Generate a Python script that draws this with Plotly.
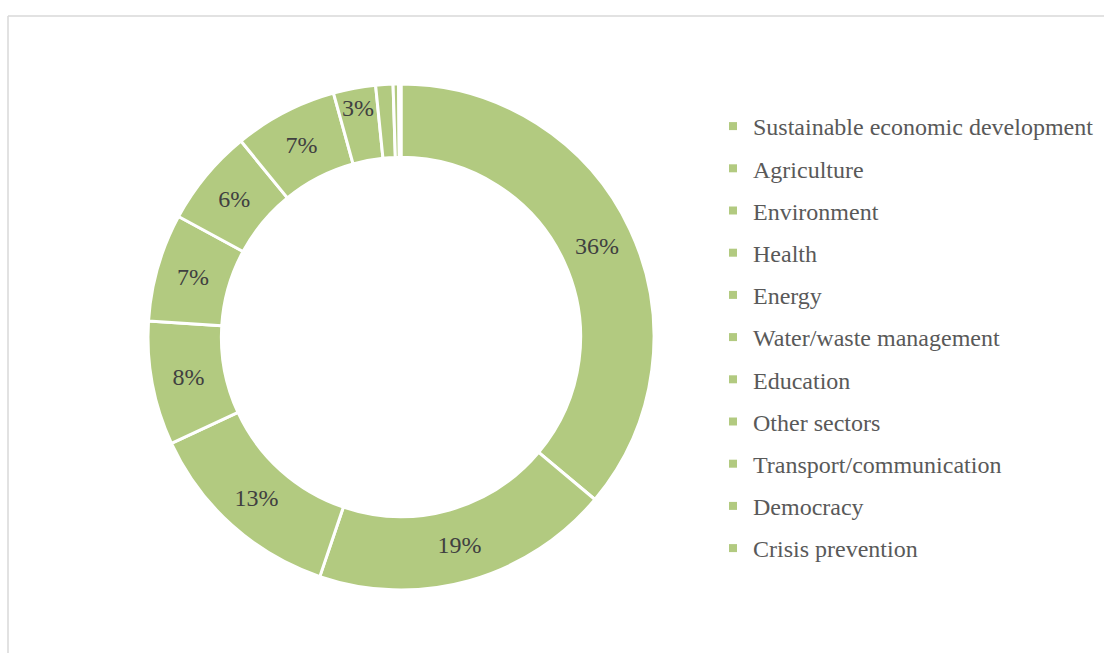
import plotly.graph_objects as go

sectors = ["Sustainable economic development", "Agriculture", "Environment", "Health",
           "Energy", "Water/waste management", "Education", "Other sectors",
           "Transport/communication", "Democracy", "Crisis prevention"]
shares = [36.1, 19.1, 12.9, 7.9, 6.9, 6.2, 6.6, 2.7, 1.1, 0.35, 0.15]
labels_text = [f"{round(v)}%" if v >= 2 else "" for v in shares]

W, H = 1104, 653
cx, cy, R = 401, 337, 253
slice_color = "#b2ca80"

fig = go.Figure()
fig.add_trace(go.Pie(
    labels=sectors, values=shares, text=labels_text, textinfo="text",
    sort=False, direction="clockwise", rotation=0, hole=0.71,
    marker=dict(colors=[slice_color] * len(sectors), line=dict(color="white", width=3)),
    textposition="inside", insidetextorientation="horizontal",
    textfont=dict(family="Liberation Serif", size=24, color="#404040"),
    domain=dict(x=[(cx - R) / W, (cx + R) / W], y=[(H - cy - R) / H, (H - cy + R) / H]),
    showlegend=False, hoverinfo="skip",
))
for i, s in enumerate(sectors):
    fig.add_trace(go.Scatter(
        x=[None], y=[None], mode="markers", name=s, legendgroup=f"g{i}",
        marker=dict(symbol="square", size=8, color=slice_color),
    ))

fig.update_layout(
    width=W, height=H, margin=dict(l=0, r=0, t=0, b=0),
    paper_bgcolor="white", plot_bgcolor="white",
    xaxis=dict(visible=False), yaxis=dict(visible=False),
    uniformtext=dict(minsize=24, mode="show"),
    legend=dict(x=(753 - 40) / W, xanchor="left", y=1 - 104 / H, yanchor="top",
                font=dict(family="Liberation Serif", size=24, color="#595959"),
                tracegroupgap=8, bgcolor="rgba(0,0,0,0)", itemclick=False),
    shapes=[
        dict(type="line", xref="paper", yref="paper", x0=8 / W, x1=1.01, y0=1 - 16 / H, y1=1 - 16 / H,
             line=dict(color="#d9d9d9", width=1.5)),
        dict(type="line", xref="paper", yref="paper", x0=8 / W, x1=8 / W, y0=-0.01, y1=1 - 16 / H,
             line=dict(color="#d9d9d9", width=1.5)),
    ],
)
fig.write_html("out.html")
